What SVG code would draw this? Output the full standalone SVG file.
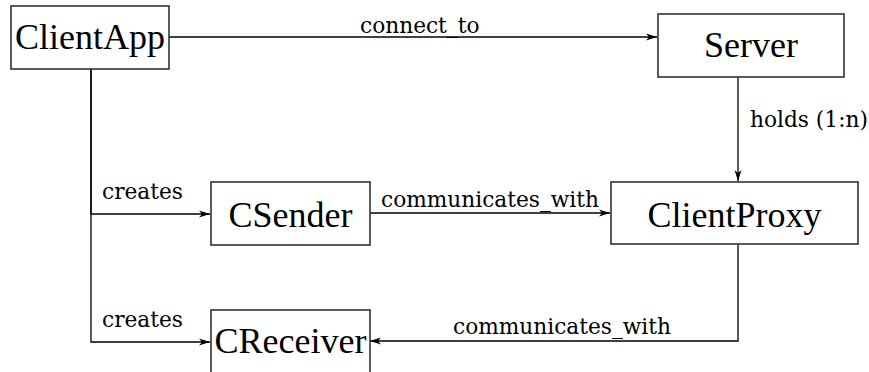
<svg xmlns="http://www.w3.org/2000/svg" width="869" height="372" viewBox="0 0 869 372">
<defs>
<marker id="arr" markerWidth="12" markerHeight="8" refX="11" refY="4" orient="auto" markerUnits="userSpaceOnUse">
<path d="M0,0.5 L11,4 L0,7.5 L3,4 z" fill="#000"/>
</marker>
<style>
.box{fill:#fff;stroke:#333;stroke-width:1.6}
.nl{font-family:"Liberation Serif",serif;font-size:36px;text-anchor:middle;fill:#000}
.el{font-family:"DejaVu Serif",serif;font-size:21.7px;fill:#000}
.c{fill:none;stroke:#000;stroke-width:1.3}
</style>
</defs>
<rect width="869" height="372" fill="#fff"/>
<g id="connectors">
<path class="c" d="M169,37 H657" marker-end="url(#arr)"/>
<path class="c" d="M738,77 V181" marker-end="url(#arr)"/>
<path class="c" d="M91,69 V214 H210" marker-end="url(#arr)"/>
<path class="c" d="M91,69 V342 H210" marker-end="url(#arr)"/>
<path class="c" d="M370,213 H610" marker-end="url(#arr)"/>
<path class="c" d="M738,244 V341 H370" marker-end="url(#arr)"/>
<text class="el" x="360" y="33">connect_to</text>
<text class="el" x="750" y="127">holds (1:n)</text>
<text class="el" x="102" y="199">creates</text>
<text class="el" x="381" y="207">communicates_with</text>
<text class="el" x="102" y="327">creates</text>
<text class="el" x="453" y="334">communicates_with</text>
</g>
<g id="ClientApp"><rect class="box" x="11" y="6" width="158" height="63"/><text class="nl" x="90" y="49">ClientApp</text></g>
<g id="Server"><rect class="box" x="658" y="14" width="186" height="63"/><text class="nl" x="751" y="57">Server</text></g>
<g id="CSender"><rect class="box" x="211" y="182" width="159" height="63"/><text class="nl" x="290.5" y="227">CSender</text></g>
<g id="ClientProxy"><rect class="box" x="611" y="182" width="247" height="62"/><text class="nl" x="734.5" y="227">ClientProxy</text></g>
<g id="CReceiver"><rect class="box" x="211" y="310" width="159" height="63"/><text class="nl" x="290.5" y="353">CReceiver</text></g>
</svg>
